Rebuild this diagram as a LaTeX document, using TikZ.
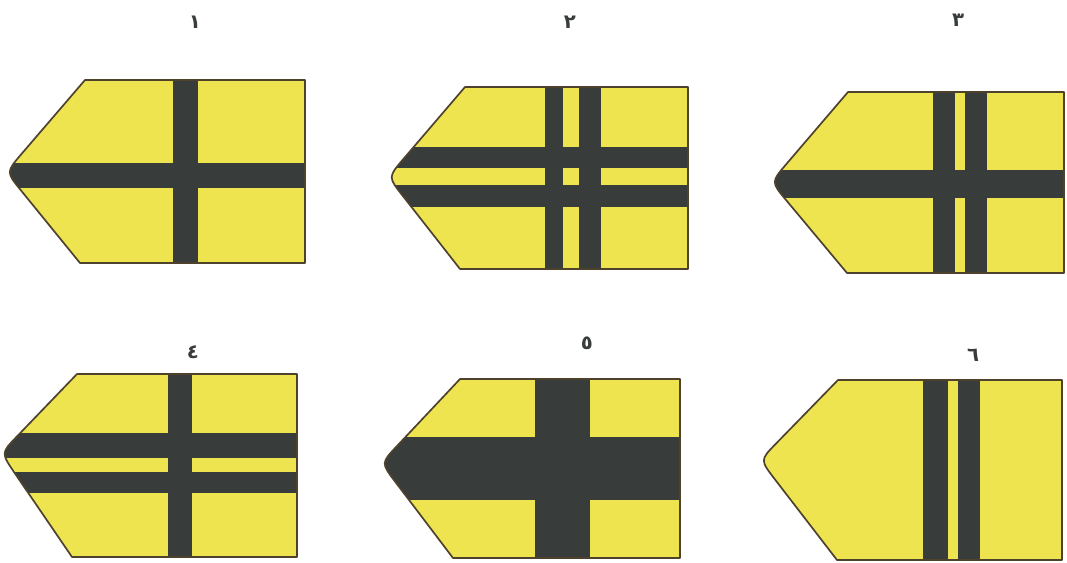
\documentclass[tikz,border=0pt]{standalone}
\usepackage{fontspec}
\usepackage{xcolor}
\usepackage{tikz}
\usetikzlibrary{calc}
\TeXXeTstate=1
\newfontfamily\arabicfont[Script=Arabic]{DejaVu Sans}
\definecolor{boardyellow}{RGB}{238,228,80}
\definecolor{stripegray}{RGB}{56,61,59}
\definecolor{edgebrown}{RGB}{78,66,44}
\providecommand{\boardoutline}[7]{(#1,#2) -- (#3,#2) -- (#3,#4) -- (#5,#4)
  -- ($(#6,#7)!0.2!(#5,#4)$) .. controls (#6,#7) .. ($(#6,#7)!0.2!(#1,#2)$) -- cycle}
\providecommand{\board}[8]{%
  \fill[boardfill] \boardoutline{#1}{#2}{#3}{#4}{#5}{#6}{#7};
  \begin{scope}
    \clip \boardoutline{#1}{#2}{#3}{#4}{#5}{#6}{#7};
    #8
  \end{scope}
  \draw[edge] \boardoutline{#1}{#2}{#3}{#4}{#5}{#6}{#7};}

\begin{document}
\begin{tikzpicture}[
    x=0.025cm, y=-0.025cm,
    boardfill/.style={fill=boardyellow},
    stripe/.style={fill=stripegray},
    edge/.style={draw=edgebrown, line width=1.2pt, line join=round},
    numlabel/.style={font=\arabicfont\bfseries\fontsize{14}{16}\selectfont, text=stripegray, inner sep=0pt}
]
\useasboundingbox (0,0) rectangle (1067,562);

% top row
\node[numlabel] (num1) at (195,22) {\beginR ١\endR};
\node[numlabel] (num2) at (570,22) {\beginR ٢\endR};
\node[numlabel] (num3) at (958,20) {\beginR ٣\endR};

\board{85}{80}{305}{263}{80}{6}{172}{%
  \fill[stripe] (0,163) rectangle (1067,188);
  \fill[stripe] (173,0) rectangle (198,562);}
\board{465}{87}{688}{269}{460}{388}{177}{%
  \fill[stripe] (0,147) rectangle (1067,168);
  \fill[stripe] (0,185) rectangle (1067,207);
  \fill[stripe] (545,0) rectangle (563,562);
  \fill[stripe] (579,0) rectangle (601,562);}
\board{848}{92}{1064}{273}{847}{771}{182}{%
  \fill[stripe] (0,170) rectangle (1067,198);
  \fill[stripe] (933,0) rectangle (955,562);
  \fill[stripe] (965,0) rectangle (987,562);}

% bottom row
\node[numlabel] (num4) at (193,352) {\beginR ٤\endR};
\node[numlabel] (num5) at (587,343) {\beginR ٥\endR};
\node[numlabel] (num6) at (973,355) {\beginR ٦\endR};

\board{77}{374}{297}{557}{72}{1}{453}{%
  \fill[stripe] (0,433) rectangle (1067,458);
  \fill[stripe] (0,472) rectangle (1067,493);
  \fill[stripe] (168,0) rectangle (192,562);}
\board{460}{379}{680}{558}{453}{381}{463}{%
  \fill[stripe] (0,437) rectangle (1067,500);
  \fill[stripe] (535,0) rectangle (590,562);}
\board{838}{380}{1062}{560}{837}{760}{460}{%
  \fill[stripe] (923,0) rectangle (948,562);
  \fill[stripe] (958,0) rectangle (980,562);}
\end{tikzpicture}
\end{document}
